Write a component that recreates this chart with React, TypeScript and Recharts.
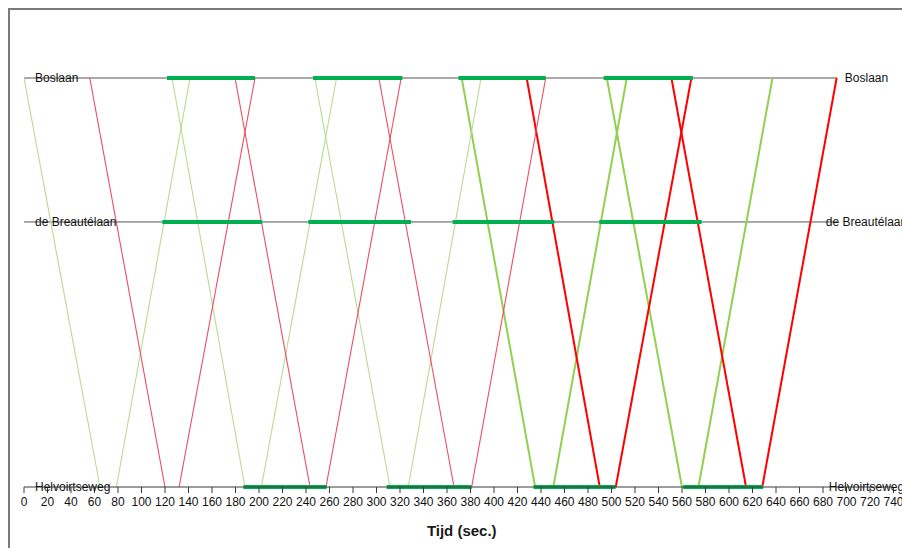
import { LineChart, Line, XAxis, YAxis, ReferenceDot } from 'recharts';

// let the chart use the full page width (no default body margin)
if (typeof document !== 'undefined') document.body.style.margin = '0';

// time axis ticks (sec.)
const ticks = [
  0, 20, 40, 60, 80, 100, 120, 140, 160, 180, 200, 220, 240, 260, 280, 300, 320, 340, 360,
  380, 400, 420, 440, 460, 480, 500, 520, 540, 560, 580, 600, 620, 640, 660, 680, 700, 720, 740,
];

// stops, bottom to top, and their position along the route
const stops = ['Helvoirtseweg', 'de Breautélaan', 'Boslaan'];
const stopPos = [0, 648, 1000];
const stopLineEnd = 692;
const rightLabelT = 717;

// trajectories Boslaan -> Helvoirtseweg (start at top, end at bottom)
const greenDownStart = [0, 126, 247.5, 372.5, 496];
const greenDownEnd = [64.7, 188, 311.5, 435, 560];
const redDownStart = [56, 179.6, 302, 427.8, 551];
const redDownEnd = [120, 243.4, 366, 490, 614.5];

// trajectories Helvoirtseweg -> Boslaan (start at bottom, end at top)
const greenUpStart = [78.6, 202, 327, 450.5, 574];
const greenUpEnd = [141.3, 266, 389, 513, 637];
const redUpStart = [132, 257, 381, 503.6, 628.3];
const redUpEnd = [196.6, 321, 444, 568, 691.6];

// green phases [start, end] per stop
const greenBoslaan = [[121.7, 196.6], [246, 322], [369.7, 444], [493.3, 569.3]];
const greenBreautelaan = [[117.7, 202.8], [242, 329.4], [364.8, 451.3], [489.6, 576.7]];
const greenHelvoirtseweg = [[186.7, 257.6], [308.6, 381], [433.6, 503.5], [561, 629]];

const TOP = stopPos[2];
const BOTTOM = stopPos[0];

type Seg = { key: string; data: { t: number; y: number }[]; color: string; width: number };

const trajectories: Seg[] = [];
const addRuns = (name: string, starts: number[], ends: number[], down: boolean, thin: string, thick: string) => {
  starts.forEach((s, i) => {
    const heavy = i >= 3;
    trajectories.push({
      key: `${name}-${i}`,
      data: [
        { t: s, y: down ? TOP : BOTTOM },
        { t: ends[i], y: down ? BOTTOM : TOP },
      ],
      color: heavy ? thick : thin,
      width: heavy ? 2 : 1.1,
    });
  });
};
addRuns('gd', greenDownStart, greenDownEnd, true, '#b9da8f', '#92d050');
addRuns('gu', greenUpStart, greenUpEnd, false, '#b9da8f', '#92d050');
addRuns('rd', redDownStart, redDownEnd, true, '#ee4b63', '#ff0000');
addRuns('ru', redUpStart, redUpEnd, false, '#ee4b63', '#ff0000');

const phases: Seg[] = [];
[greenHelvoirtseweg, greenBreautelaan, greenBoslaan].forEach((list, si) => {
  list.forEach(([a, b], i) => {
    phases.push({
      key: `ph-${si}-${i}`,
      data: [
        { t: a, y: stopPos[si] },
        { t: b, y: stopPos[si] },
      ],
      color: '#00b050',
      width: 4,
    });
  });
});

export default function App() {
  return (
    <div
      style={{
        width: 902,
        height: 548,
        boxSizing: 'border-box',
        padding: '8px 0 0 8px',
        overflow: 'hidden',
        background: '#fff',
      }}
    >
      <div
        style={{
          width: 892,
          height: 538,
          borderLeft: '2px solid #7a7a7a',
          borderTop: '2px solid #7a7a7a',
          fontFamily: '"Liberation Sans", Arial, sans-serif',
        }}
      >
        <LineChart width={892} height={538} margin={{ top: 68, right: 8.5, bottom: 0, left: 14 }}>
          <XAxis
            type="number"
            dataKey="t"
            domain={[0, 740]}
            ticks={ticks}
            interval={0}
            allowDataOverflow
            height={61}
            tickSize={6}
            tickMargin={4}
            axisLine={{ stroke: '#3a3a3a' }}
            tickLine={{ stroke: '#3a3a3a' }}
            tick={{ fill: '#111', fontSize: 12 }}
            label={{
              value: 'Tijd (sec.)',
              position: 'insideBottom',
              offset: 12,
              dx: 3,
              fontSize: 15,
              fontWeight: 'bold',
              fill: '#1a1a1a',
            }}
          />
          <YAxis hide type="number" domain={[BOTTOM, TOP]} />
          {stopPos.slice(1).map((p, i) => (
            <Line
              key={`stop-${i}`}
              data={[
                { t: 0, y: p },
                { t: stopLineEnd, y: p },
              ]}
              dataKey="y"
              type="linear"
              stroke="#555"
              strokeWidth={1}
              dot={false}
              isAnimationActive={false}
            />
          ))}
          {trajectories.map((s) => (
            <Line
              key={s.key}
              data={s.data}
              dataKey="y"
              type="linear"
              stroke={s.color}
              strokeWidth={s.width}
              dot={false}
              isAnimationActive={false}
            />
          ))}
          {phases.map((s) => (
            <Line
              key={s.key}
              data={s.data}
              dataKey="y"
              type="linear"
              stroke={s.color}
              strokeWidth={s.width}
              dot={false}
              isAnimationActive={false}
            />
          ))}
          {stops.map((name, i) => (
            <ReferenceDot
              key={`l-${name}`}
              x={0}
              y={stopPos[i]}
              r={0}
              fill="none"
              stroke="none"
              ifOverflow="visible"
              label={{ value: name, position: 'right', offset: 11, fontSize: 12, fill: '#111' }}
            />
          ))}
          {stops.map((name, i) => (
            <ReferenceDot
              key={`r-${name}`}
              x={rightLabelT}
              y={stopPos[i]}
              r={0}
              fill="none"
              stroke="none"
              ifOverflow="visible"
              label={{ value: name, position: 'center', fontSize: 12, fill: '#111' }}
            />
          ))}
        </LineChart>
      </div>
    </div>
  );
}
